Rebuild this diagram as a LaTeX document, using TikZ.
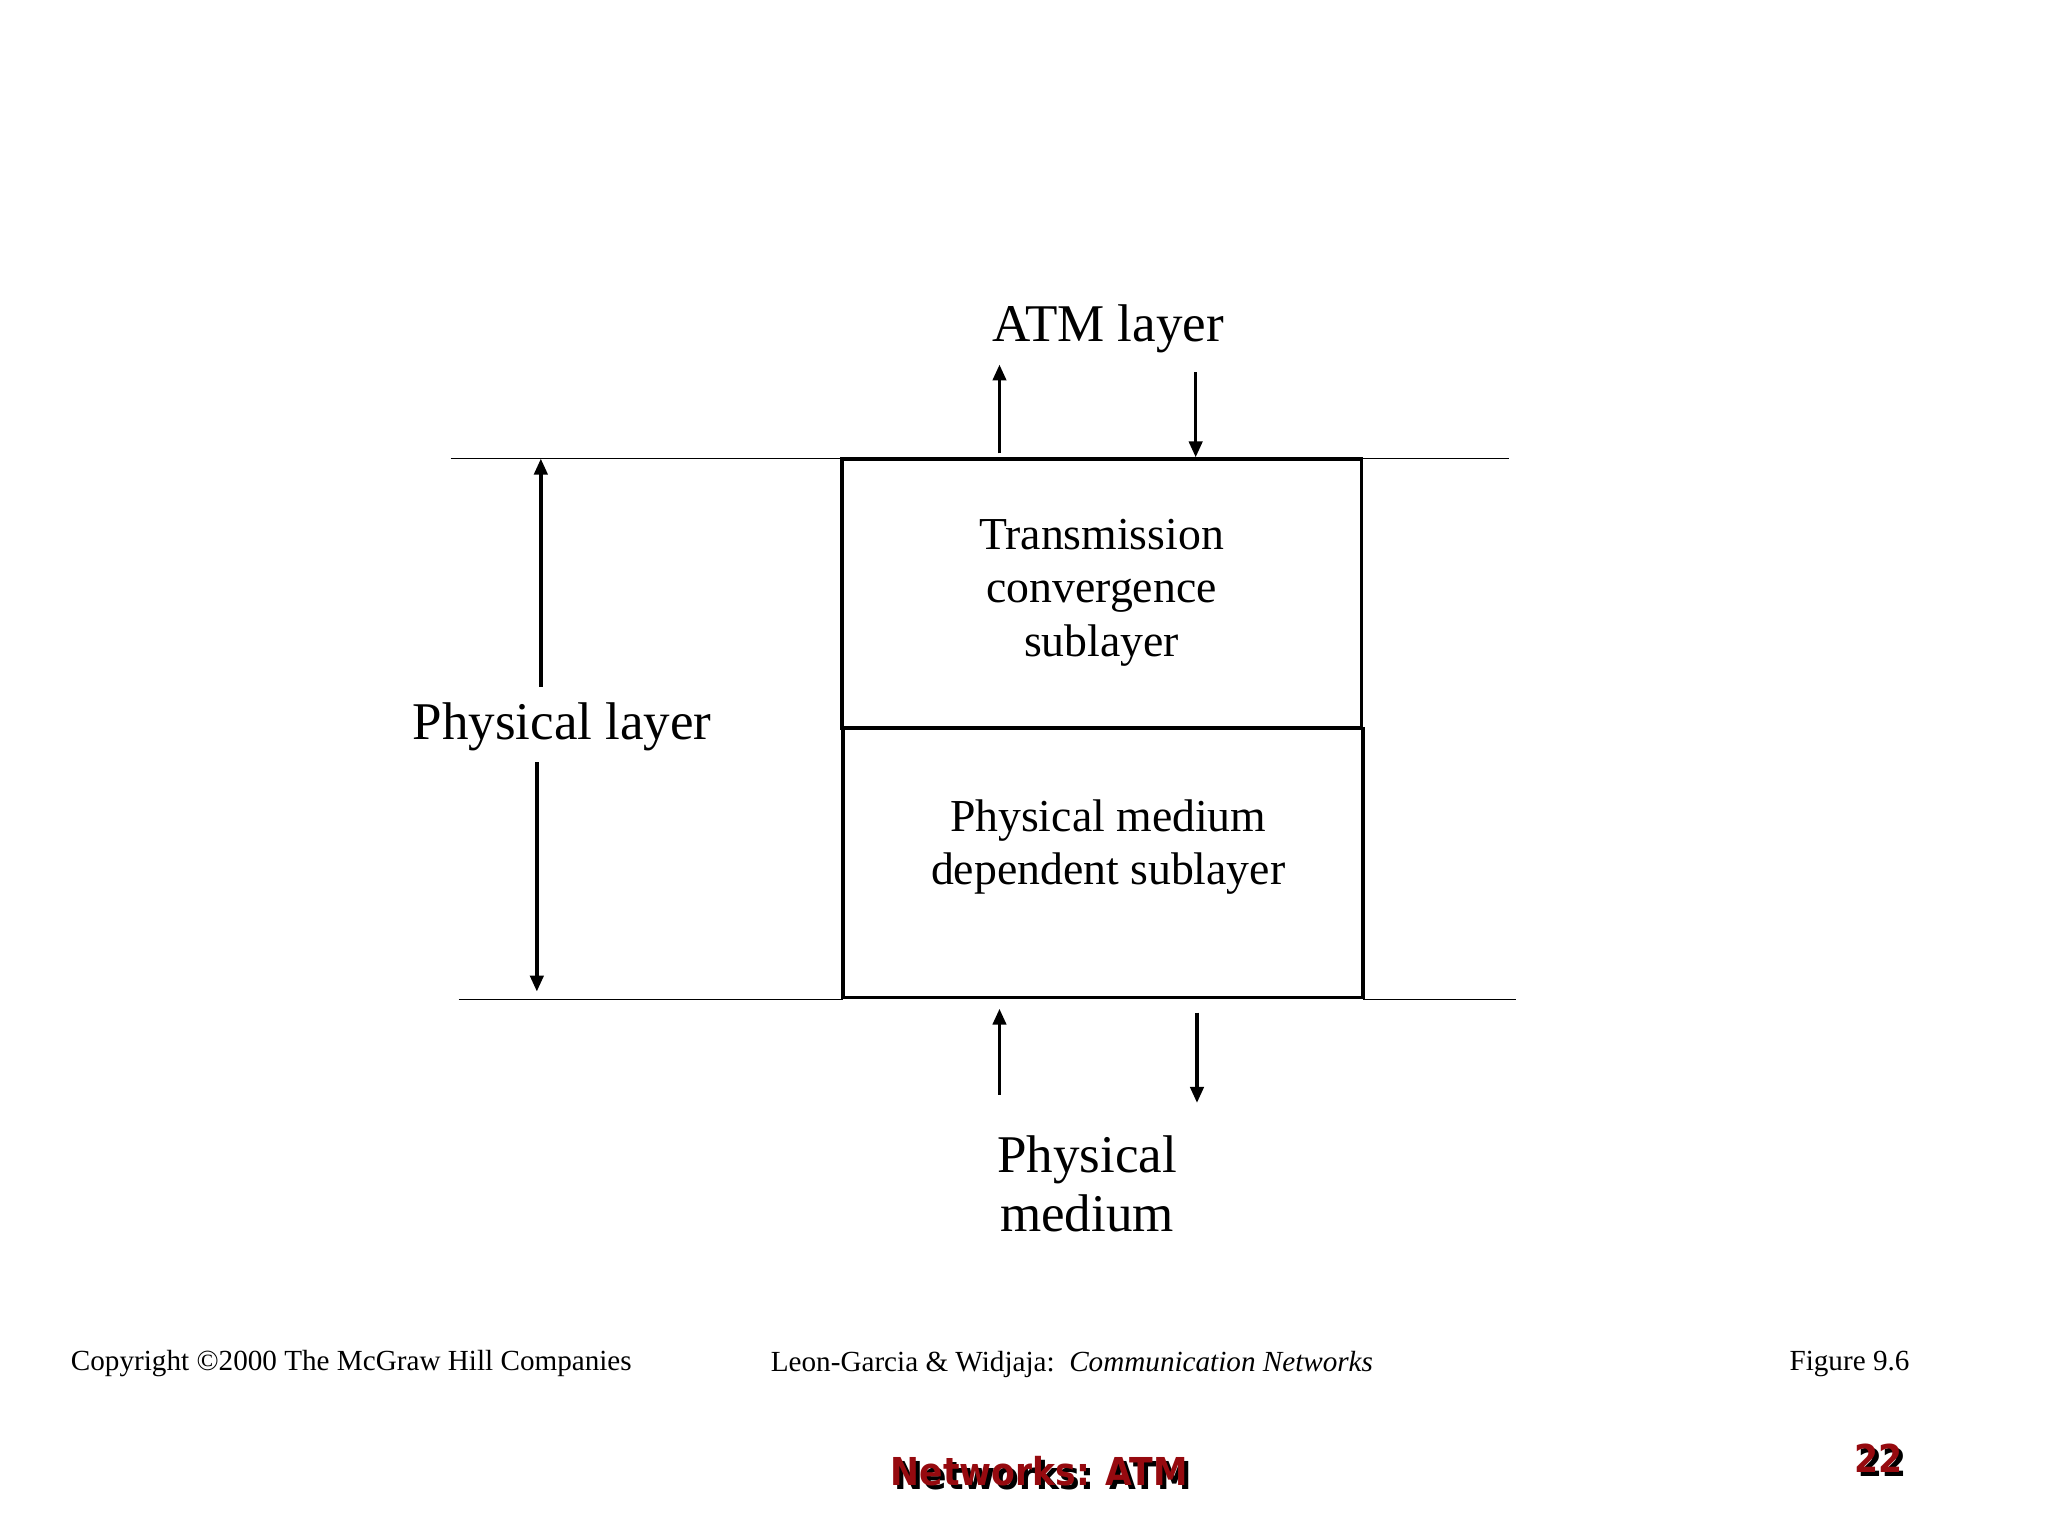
\documentclass[tikz,border=0pt]{standalone}
\usepackage{fontspec}
\setmainfont{Liberation Serif}
\newfontfamily\titlefont{DejaVu Sans Condensed}
\usetikzlibrary{arrows.meta}
\definecolor{dred}{RGB}{150,10,15}
\begin{document}
\begin{tikzpicture}[x=1pt,y=-1pt,
  thinline/.style={line width=1.2pt},
  boxst/.style={draw,line width=2.8pt,minimum width=392pt,minimum height=203pt,inner sep=0pt},
  arr/.style={line width=2.6pt,-{Triangle[length=12pt,width=10pt]}},
  big/.style={font=\fontsize{40}{46}\selectfont,align=center},
  mid/.style={font=\fontsize{34.5}{42}\selectfont,align=center},
  foot/.style={font=\fontsize{22}{26}\selectfont},
  ttl/.style={font=\titlefont\bfseries\fontsize{29}{34}\selectfont}]
\useasboundingbox (0,0) rectangle (1545,1159);
\node[boxst] (tc) at (831,447.5) {};
\node[boxst] (pmd) at (832,651) {};
\node[mid] at (831,447) {Transmission\\[-0.05em]convergence\\[-0.05em]sublayer};
\node[mid] at (836,639) {Physical medium\\[-0.05em]dependent sublayer};
\coordinate (tl1) at (340,346); \coordinate (tl2) at (635,346);
\coordinate (tr1) at (1027,346); \coordinate (tr2) at (1138,346);
\coordinate (bl1) at (346,754); \coordinate (bl2) at (636,754);
\coordinate (br1) at (1028,754); \coordinate (br2) at (1144,754);
\draw[thinline] (tl1) -- (tl2) (tr1) -- (tr2) (bl1) -- (bl2) (br1) -- (br2);
\node[big] (pl) at (424,548) {Physical layer};
\coordinate (pa1) at (408,518); \coordinate (pa2) at (408,346);
\coordinate (pb1) at (405,575); \coordinate (pb2) at (405,748);
\draw[arr] (pa1) -- (pa2);
\draw[arr] (pb1) -- (pb2);
\node[big] (atm) at (836,248) {ATM layer};
\coordinate (u1) at (754,342); \coordinate (u2) at (754,275);
\coordinate (d1) at (902,281); \coordinate (d2) at (902,345);
\draw[arr] (u1) -- (u2);
\draw[arr] (d1) -- (d2);
\coordinate (u3) at (754,826); \coordinate (u4) at (754,761);
\coordinate (d3) at (903,764); \coordinate (d4) at (903,832);
\draw[arr] (u3) -- (u4);
\draw[arr] (d3) -- (d4);
\node[big] (pm) at (820,893) {Physical\\[-0.05em]medium};
\node[foot,anchor=west] (cp) at (50,1029) {Copyright \textcopyright2000 The McGraw Hill Companies};
\node[foot,anchor=west] (lg) at (578,1029) {Leon-Garcia \& Widjaja:\ \ \textit{Communication Networks}};
\node[foot,anchor=east] (fg) at (1444,1029) {Figure 9.6};
\node[ttl,text=black] at (787,1113) {Networks: ATM};
\node[ttl,text=dred] (nt) at (784,1110) {Networks: ATM};
\node[ttl,text=black] at (1420,1103) {22};
\node[ttl,text=dred] (pg) at (1417,1100) {22};
\end{tikzpicture}
\end{document}
